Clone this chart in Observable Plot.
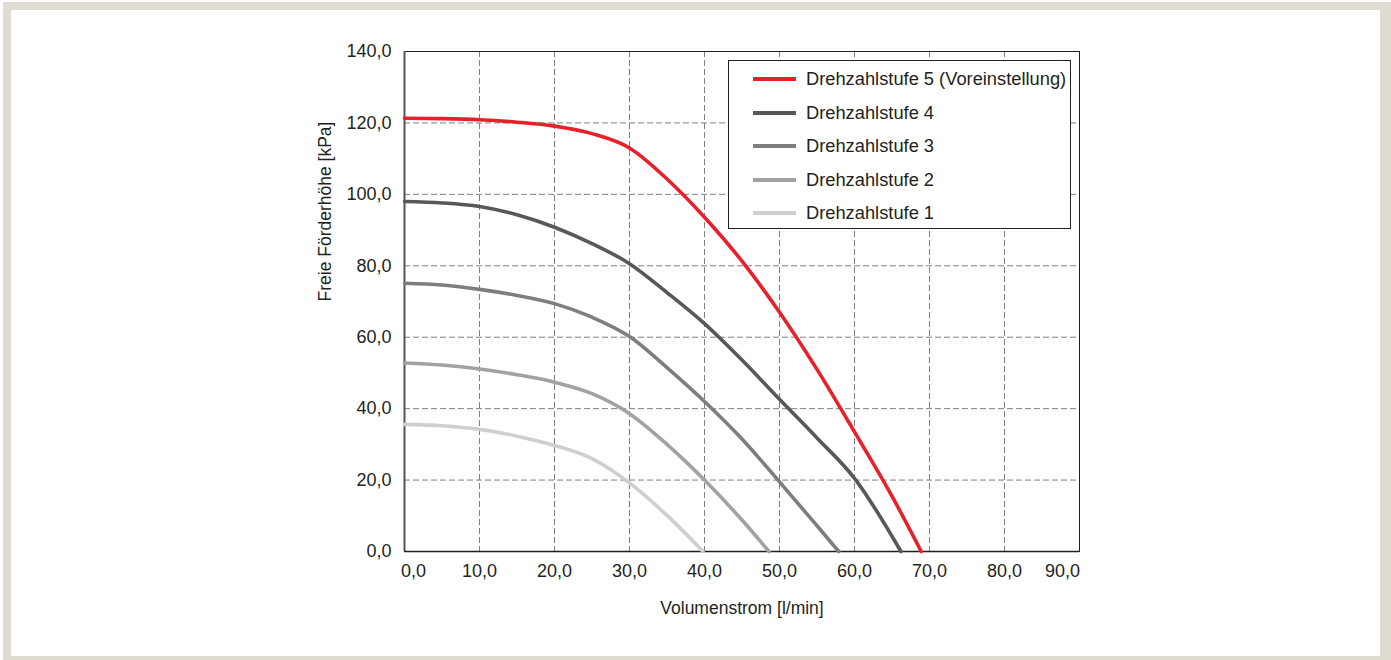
<!DOCTYPE html>
<html>
<head>
<meta charset="utf-8">
<script src="https://cdn.jsdelivr.net/npm/d3@7"></script>
<script src="https://cdn.jsdelivr.net/npm/@observablehq/plot@0.6"></script>
<style>
  html, body { margin: 0; padding: 0; background: #ffffff; width: 1391px; height: 660px; overflow: hidden; }
  #frame { position: absolute; left: 3px; top: 2px; width: 1369px; height: 646px; border-style: solid; border-color: #e1dcd2; border-width: 8px 11px 8px 8px; }
  #chart { position: absolute; left: 0; top: 0; }
  #legend { position: absolute; left: 728px; top: 60px; width: 341px; height: 167px; border: 1.5px solid #231f20; background: #ffffff; font-family: "Liberation Sans", Arial, sans-serif; font-size: 18.3px; color: #231f20; }
  .row { position: absolute; left: 0; height: 24px; display: flex; align-items: center; white-space: nowrap; }
  .sw { width: 43px; height: 4px; margin-left: 24px; margin-right: 10px; }
</style>
</head>
<body>
<div id="frame"></div>
<div id="chart"></div>
<div id="legend"></div>
<script>
// ---- data ----
const xTicks = [0, 10, 20, 30, 40, 50, 60, 70, 80, 90];
const yTicks = [0, 20, 40, 60, 80, 100, 120, 140];
const seriesNames = [
  "Drehzahlstufe 5 (Voreinstellung)",
  "Drehzahlstufe 4",
  "Drehzahlstufe 3",
  "Drehzahlstufe 2",
  "Drehzahlstufe 1"
];
const seriesColors = ["#e8202a", "#58585a", "#7e7e81", "#a2a2a5", "#cfcfd1"];
const stufe5 = [[0,121.3],[5,121.2],[10,120.9],[15,120.2],[20,119.1],[25,117],[30,113],[35,104.3],[40,93.6],[45,81.3],[50,67],[55,51],[60,33.5],[65,15.5],[68.9,0]];
const stufe4 = [[0,98],[5,97.6],[10,96.6],[15,94.3],[20,90.8],[25,86.2],[30,80.6],[35,72.5],[40,63.8],[45,53.6],[50,42.6],[55,31.8],[60,20.5],[66.2,0]];
const stufe3 = [[0,75.1],[5,74.6],[10,73.4],[15,71.7],[20,69.4],[25,65.6],[30,60.2],[35,51.5],[40,42],[45,31.5],[50,19.5],[55,7.2],[57.9,0]];
const stufe2 = [[0,52.8],[5,52.2],[10,51.1],[15,49.5],[20,47.4],[25,44.2],[30,38.6],[35,30],[40,20],[45,8.8],[48.6,0]];
const stufe1 = [[0,35.6],[5,35.2],[10,34.2],[15,32.3],[20,29.7],[25,26],[30,19.2],[35,10.1],[39.8,0]];
const xTitle = "Volumenstrom [l/min]";
const yTitle = "Freie Förderhöhe [kPa]";

// ---- build ----
const allSeries = [stufe5, stufe4, stufe3, stufe2, stufe1];
const rows = allSeries.flatMap((s, i) => s.map(([x, y]) => ({x, y, series: seriesNames[i]})));
const fmt = d => d.toFixed(1).replace(".", ",");
const font = "'Liberation Sans', Arial, sans-serif";

const chart = Plot.plot({
  width: 1391,
  height: 660,
  marginLeft: 404,
  marginRight: 312,
  marginTop: 51,
  marginBottom: 109,
  style: {fontFamily: font, fontSize: "18px", color: "#231f20", background: "transparent"},
  x: {domain: [0, 90], axis: null},
  y: {domain: [0, 140], axis: null},
  color: {domain: seriesNames, range: seriesColors},
  marks: [
    Plot.gridX(xTicks.slice(1, -1), {stroke: "#808080", strokeOpacity: 1, strokeWidth: 1, strokeDasharray: "6,3"}),
    Plot.gridY(yTicks.slice(1, -1), {stroke: "#808080", strokeOpacity: 1, strokeWidth: 1, strokeDasharray: "6,3"}),
    Plot.frame({stroke: "#231f20", strokeWidth: 1}),
    Plot.ruleX([0], {stroke: "#555555", strokeWidth: 2}),
    Plot.ruleY([0], {stroke: "#231f20", strokeWidth: 1.5}),
    Plot.line(rows, {x: "x", y: "y", z: "series", stroke: "series", strokeWidth: 3.6, curve: "monotone-x"}),
    Plot.axisY(yTicks, {tickSize: 0, tickPadding: 13, tickFormat: fmt, fontSize: 18, label: null}),
    Plot.axisX(xTicks.slice(1, -1), {tickSize: 0, tickPadding: 13, tickFormat: fmt, fontSize: 18, label: null}),
    Plot.axisX([xTicks[0]], {tickSize: 0, tickPadding: 13, tickFormat: fmt, fontSize: 18, label: null, dx: 9}),
    Plot.axisX([xTicks[xTicks.length - 1]], {tickSize: 0, tickPadding: 13, tickFormat: fmt, fontSize: 18, label: null, dx: -17}),
    Plot.text([xTitle], {frameAnchor: "bottom", dy: 62, fontSize: 17.5, fill: "#231f20"}),
    Plot.text([yTitle], {frameAnchor: "left", dx: -79, rotate: -90, fontSize: 17.5, fill: "#231f20"})
  ]
});
document.getElementById("chart").appendChild(chart);

// ---- legend ----
const legend = document.getElementById("legend");
seriesNames.forEach((name, i) => {
  const row = document.createElement("div");
  row.className = "row";
  row.style.top = (6 + i * 33.6) + "px";
  const sw = document.createElement("div");
  sw.className = "sw";
  sw.style.background = seriesColors[i];
  const t = document.createElement("span");
  t.textContent = name;
  row.appendChild(sw);
  row.appendChild(t);
  legend.appendChild(row);
});
</script>
</body>
</html>
